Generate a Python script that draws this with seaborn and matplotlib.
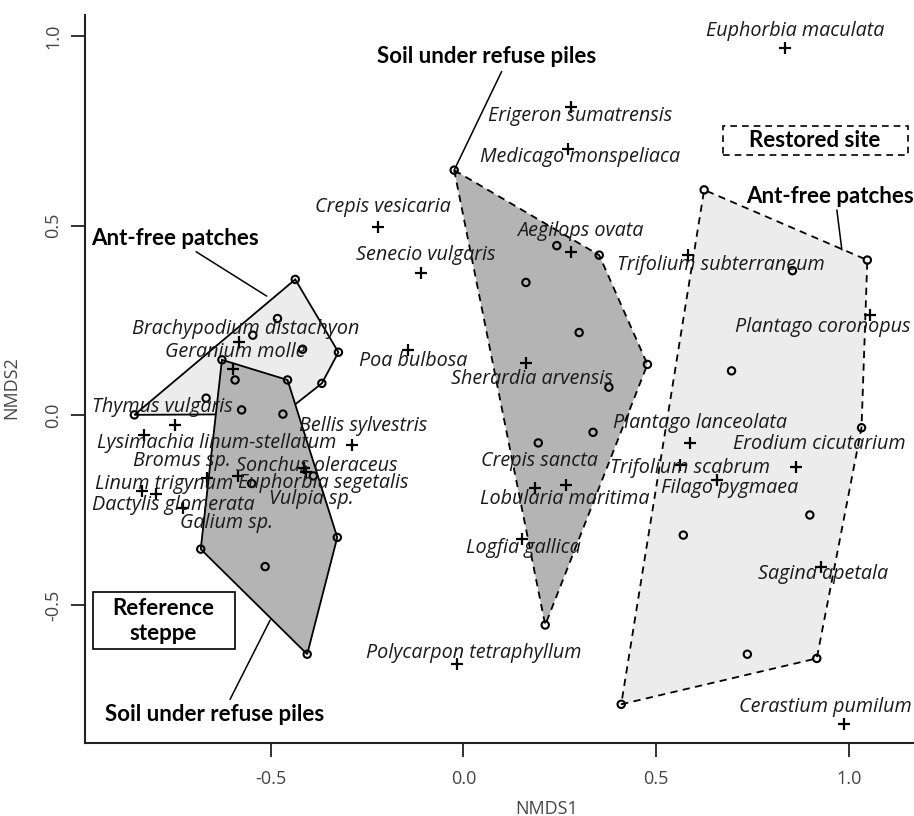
import numpy as np
import pandas as pd
import matplotlib
matplotlib.use("Agg")
import matplotlib.pyplot as plt
import seaborn as sns

# ---------------- data ----------------
# site scores (NMDS1, NMDS2) per group
steppe_free_x = [-0.853, -0.468, -0.367, -0.324, -0.436, -0.482, -0.546, -0.417, -0.667]
steppe_free_y = [0.001, 0.003, 0.084, 0.166, 0.358, 0.255, 0.211, 0.174, 0.045]

steppe_pile_x = [-0.626, -0.456, -0.327, -0.405, -0.681, -0.592, -0.575, -0.514, -0.549, -0.389]
steppe_pile_y = [0.146, 0.093, -0.322, -0.630, -0.353, 0.093, 0.014, -0.399, -0.180, -0.160]

restored_pile_x = [-0.024, 0.352, 0.477, 0.212, 0.242, 0.162, 0.300, 0.377, 0.336, 0.194]
restored_pile_y = [0.646, 0.422, 0.134, -0.553, 0.447, 0.350, 0.218, 0.074, -0.045, -0.073]

restored_free_x = [0.624, 1.047, 1.032, 0.916, 0.409, 0.853, 0.695, 0.898, 0.570, 0.736]
restored_free_y = [0.594, 0.409, -0.033, -0.641, -0.762, 0.381, 0.117, -0.263, -0.316, -0.630]

# species scores
species = [
    "Euphorbia maculata", "Erigeron sumatrensis", "Medicago monspeliaca",
    "Crepis vesicaria", "Senecio vulgaris", "Aegilops ovata",
    "Trifolium subterraneum", "Plantago coronopus", "Brachypodium distachyon",
    "Geranium molle", "Poa bulbosa", "Sherardia arvensis", "Thymus vulgaris",
    "Lysimachia linum-stellatum", "Bellis sylvestris", "Bromus sp.",
    "Sonchus oleraceus", "Euphorbia segetalis", "Vulpia sp.", "Linum trigynum",
    "Dactylis glomerata", "Galium sp.", "Plantago lanceolata",
    "Erodium cicutarium", "Trifolium scabrum", "Filago pygmaea",
    "Crepis sancta", "Lobularia maritima", "Logfia gallica",
    "Polycarpon tetraphyllum", "Sagina apetala", "Cerastium pumilum",
]
species_x = [0.834, 0.279, 0.270, -0.221, -0.110, 0.279, 0.583, 1.054, -0.581,
             -0.598, -0.143, 0.162, -0.748, -0.827, -0.290, -0.665, -0.408,
             -0.585, -0.413, -0.834, -0.797, -0.726, 0.587, 0.862, 0.561, 0.657,
             0.186, 0.266, 0.153, -0.017, 0.927, 0.987]
species_y = [0.969, 0.812, 0.702, 0.497, 0.376, 0.431, 0.422, 0.264, 0.192,
             0.122, 0.172, 0.137, -0.026, -0.052, -0.079, -0.166, -0.150,
             -0.160, -0.139, -0.199, -0.208, -0.245, -0.073, -0.136, -0.131,
             -0.171, -0.191, -0.184, -0.327, -0.657, -0.399, -0.814]
# label offsets from each species point (pixels, right / up)
label_dx = [10, 9, 12, 5, 5, 9, 33, -47, 6, 3, 5, 6, -13, 72, 12, -25, 11,
            85, 7, 22, 17, 43, 10, 23, 10, 13, 4, -1, 1, 17, 2, -19]
label_dy = [17, -9, -8, 20, 18, 21, -10, -12, 13, 17, -11, -16, 18, -8, 19, 17,
            6, -7, -31, 7, -11, -15, 20, 23, -3, -8, 27, -14, -9, 11, -7, 17]

# ---------------- style ----------------
sns.set_style("white")
plt.rcParams["font.family"] = ["Open Sans", "DejaVu Sans"]

W, H = 914, 816
fig = plt.figure(figsize=(W / 100, H / 100), dpi=100)
ax = fig.add_axes([85 / W, 1 - 743 / H, (914 - 85) / W, (743 - 15) / H])

LIGHT = "#ececec"
DARK = "#b4b4b4"


def hull(xs, ys):
    pts = sorted(set(zip(xs, ys)))

    def cross(o, a, b):
        return (a[0] - o[0]) * (b[1] - o[1]) - (a[1] - o[1]) * (b[0] - o[0])

    lower, upper = [], []
    for p in pts:
        while len(lower) >= 2 and cross(lower[-2], lower[-1], p) <= 0:
            lower.pop()
        lower.append(p)
    for p in reversed(pts):
        while len(upper) >= 2 and cross(upper[-2], upper[-1], p) <= 0:
            upper.pop()
        upper.append(p)
    h = lower[:-1] + upper[:-1]
    return [p[0] for p in h], [p[1] for p in h]


groups = [
    (steppe_free_x, steppe_free_y, LIGHT, "-", 1),
    (steppe_pile_x, steppe_pile_y, DARK, "-", 2),
    (restored_free_x, restored_free_y, LIGHT, (0, (4, 3)), 1),
    (restored_pile_x, restored_pile_y, DARK, (0, (4, 3)), 2),
]
for gx, gy, fc, ls, z in groups:
    hx, hy = hull(gx, gy)
    ax.fill(hx, hy, facecolor=fc, edgecolor="black", linewidth=1.3,
            linestyle=ls, zorder=z)

sites = pd.DataFrame({
    "NMDS1": steppe_free_x + steppe_pile_x + restored_pile_x + restored_free_x,
    "NMDS2": steppe_free_y + steppe_pile_y + restored_pile_y + restored_free_y,
})
sns.scatterplot(data=sites, x="NMDS1", y="NMDS2", ax=ax, marker="o", s=28,
                facecolor="none", edgecolor="black", linewidth=1.5, zorder=5)

spec = pd.DataFrame({"NMDS1": species_x, "NMDS2": species_y, "name": species})
sns.scatterplot(data=spec, x="NMDS1", y="NMDS2", ax=ax, marker="+", s=70,
                color="black", linewidth=1.6, zorder=5)

for name, x, y, dx, dy in zip(species, species_x, species_y, label_dx, label_dy):
    ax.annotate(name, (x, y), xytext=(dx, dy), textcoords="offset pixels",
                ha="center", va="center", style="italic", fontsize=14.2,
                color="#1a1a1a", zorder=6)

# group annotations
bold = dict(fontsize=16, fontweight="bold", color="black", ha="center",
            va="center", zorder=6, family=["Lato", "DejaVu Sans"])
ax.text(0.061, 0.945, "Soil under refuse piles", **bold)
ax.plot([0.099, -0.024], [0.906, 0.646], color="black", lw=1.1, zorder=4)
ax.text(-0.748, 0.466, "Ant-free patches", **bold)
ax.plot([-0.693, -0.510], [0.431, 0.314], color="black", lw=1.1, zorder=4)
ax.text(0.949, 0.576, "Ant-free patches", **bold)
ax.plot([0.968, 0.981], [0.541, 0.436], color="black", lw=1.1, zorder=4)
ax.text(-0.644, -0.790, "Soil under refuse piles", **bold)
ax.plot([-0.605, -0.501], [-0.749, -0.540], color="black", lw=1.1, zorder=4)
ax.text(-0.779, -0.542, "Reference\nsteppe", linespacing=1.2, **bold)
ax.add_patch(plt.Rectangle((-0.961, -0.617), 0.369, 0.150, fill=False,
                           edgecolor="black", lw=1.2, zorder=4))
ax.text(0.911, 0.724, "Restored site", **bold)
ax.add_patch(plt.Rectangle((0.672, 0.686), 0.481, 0.077, fill=False,
                           edgecolor="black", lw=1.2, ls=(0, (4, 3)), zorder=4))

# axes
ax.set_xlim(-0.981, 1.168)
ax.set_ylim(-0.864, 1.055)
ax.set_xticks([-0.5, 0.0, 0.5, 1.0])
ax.set_yticks([-0.5, 0.0, 0.5, 1.0])
ax.set_xticklabels(["-0.5", "0.0", "0.5", "1.0"])
ax.set_yticklabels(["-0.5", "0.0", "0.5", "1.0"], rotation=90, va="center")
ax.tick_params(axis="both", direction="out", length=10, width=1.3,
               color="#222222", labelsize=13, labelcolor="#444444",
               left=True, bottom=True)
ax.tick_params(axis="x", pad=9.5)
ax.tick_params(axis="y", pad=6.5)
for side in ["top", "right"]:
    ax.spines[side].set_visible(False)
for side in ["left", "bottom"]:
    ax.spines[side].set_color("#222222")
    ax.spines[side].set_linewidth(1.5)
ax.set_xlabel("NMDS1", fontsize=13, color="#444444")
ax.set_ylabel("NMDS2", fontsize=13, color="#444444")
ax.xaxis.set_label_coords(0.557, -0.078)
ax.yaxis.set_label_coords(-0.078, 0.488)

fig.savefig("out.png", dpi=100)
